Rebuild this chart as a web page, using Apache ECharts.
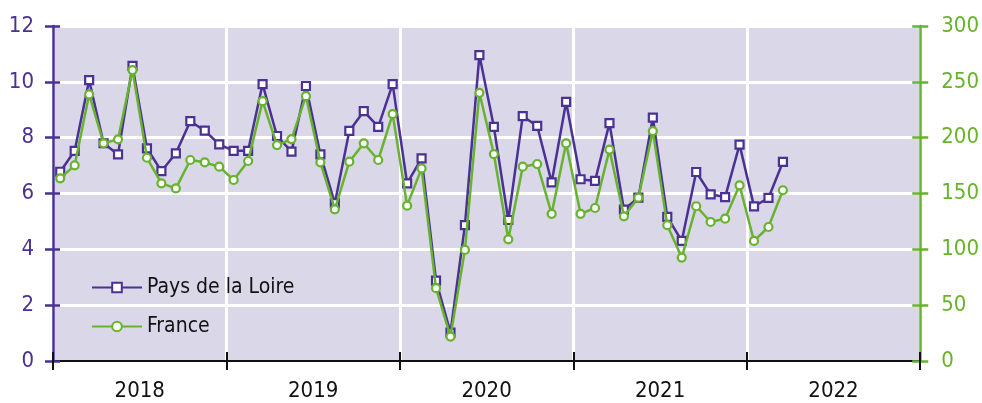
<!DOCTYPE html>
<html>
<head>
<meta charset="utf-8">
<script src="https://cdn.jsdelivr.net/npm/echarts@6/dist/echarts.min.js"></script>
<style>
html,body{margin:0;padding:0;background:#fff;}
#chart{width:982px;height:403px;}
</style>
</head>
<body>
<div id="chart"></div>
<script>
var years = ['2018', '2019', '2020', '2021', '2022'];
var months = [];
years.forEach(function (y) { for (var m = 1; m <= 12; m++) months.push(y + '-' + (m < 10 ? '0' + m : m)); });

var leftTicks = [0, 2, 4, 6, 8, 10, 12];
var rightTicks = [0, 50, 100, 150, 200, 250, 300];

var paysDeLaLoire = [
  6.78, 7.53, 10.06, 7.80, 7.40, 10.57, 7.62, 6.80, 7.44, 8.59, 8.25, 7.76,
  7.53, 7.53, 9.92, 8.06, 7.50, 9.85, 7.40, 5.65, 8.24, 8.95, 8.39, 9.92,
  6.36, 7.26, 2.88, 1.02, 4.87, 10.96, 8.39, 5.05, 8.77, 8.42, 6.40, 9.28,
  6.51, 6.45, 8.52, 5.42, 5.85, 8.72, 5.16, 4.30, 6.77, 5.97, 5.87, 7.75,
  5.54, 5.84, 7.13
];
var france = [
  163.6, 175.2, 238.7, 194.9, 198.5, 260.5, 182.0, 159.1, 154.6, 180.0, 177.9, 174.0,
  162.1, 179.1, 232.7, 193.4, 198.7, 237.2, 177.9, 135.8, 178.5, 194.9, 180.0, 221.1,
  139.1, 172.5, 65.2, 21.9, 99.5, 240.2, 185.3, 109.0, 174.0, 176.4, 131.8, 194.9,
  131.8, 137.0, 189.3, 129.6, 146.3, 205.9, 121.6, 92.6, 138.6, 124.5, 127.5, 157.3,
  107.5, 120.0, 152.9
];

var PURPLE = '#4a3193';
var GREEN = '#68b32e';
var FONT = "'Liberation Sans Narrow', 'DejaVu Sans Condensed', 'Roboto Condensed', sans-serif";

var chart = echarts.init(document.getElementById('chart'), null, {renderer: 'canvas'});
var option = {
  animation: false,
  textStyle: {fontFamily: FONT},
  grid: {
    left: 53, right: 60, top: 26, bottom: 42,
    show: true, backgroundColor: '#dad7e9', borderWidth: 0
  },
  legend: {
    orient: 'vertical', left: 86, top: 272, itemWidth: 50, itemHeight: 12, itemGap: 18,
    textStyle: {fontFamily: FONT, fontSize: 21, color: '#111'},
    data: ['Pays de la Loire', 'France']
  },
  xAxis: [
    {type: 'category', data: months, show: false, boundaryGap: true},
    {type: 'category', data: years, position: 'bottom', boundaryGap: true,
      axisLine: {show: true, lineStyle: {color: '#111', width: 2}},
      axisTick: {show: true, length: 9, lineStyle: {color: '#111', width: 2}},
      axisLabel: {color: '#111', fontSize: 22, fontFamily: FONT, margin: 19},
      splitLine: {show: true, lineStyle: {color: '#ffffff', width: 3}}
    },
    {type: 'category', data: years, position: 'bottom', boundaryGap: true,
      axisLine: {show: false},
      axisTick: {show: true, inside: true, length: 9, lineStyle: {color: '#111', width: 2}},
      axisLabel: {show: false}, splitLine: {show: false}
    }
  ],
  yAxis: [
    {type: 'value', min: leftTicks[0], max: leftTicks[leftTicks.length - 1], interval: 2, position: 'left',
      axisLine: {show: true, lineStyle: {color: PURPLE, width: 2.5}},
      axisTick: {show: true, length: 8, lineStyle: {color: PURPLE, width: 2.5}},
      axisLabel: {color: PURPLE, fontSize: 22, fontFamily: FONT, margin: 19},
      splitLine: {show: true, lineStyle: {color: '#ffffff', width: 3}}
    },
    {type: 'value', min: rightTicks[0], max: rightTicks[rightTicks.length - 1], interval: 50, position: 'right',
      axisLine: {show: true, lineStyle: {color: GREEN, width: 2.5}},
      axisTick: {show: true, length: 8, lineStyle: {color: GREEN, width: 2.5}},
      axisLabel: {color: GREEN, fontSize: 22, fontFamily: FONT, margin: 21},
      splitLine: {show: false}
    },
    {type: 'value', min: 0, max: 12, interval: 2, position: 'left',
      axisLine: {show: false}, axisLabel: {show: false}, splitLine: {show: false},
      axisTick: {show: true, inside: true, length: 7, lineStyle: {color: PURPLE, width: 2.5}}
    },
    {type: 'value', min: 0, max: 300, interval: 50, position: 'right',
      axisLine: {show: false}, axisLabel: {show: false}, splitLine: {show: false},
      axisTick: {show: true, inside: true, length: 8, lineStyle: {color: GREEN, width: 2.5}}
    }
  ],
  series: [
    {name: 'France', type: 'line', xAxisIndex: 0, yAxisIndex: 1, data: france, z: 3,
      symbol: 'circle', symbolSize: 8,
      lineStyle: {color: GREEN, width: 2.5},
      itemStyle: {color: '#ffffff', borderColor: GREEN, borderWidth: 2.2}
    },
    {name: 'Pays de la Loire', type: 'line', xAxisIndex: 0, yAxisIndex: 0, data: paysDeLaLoire, z: 2,
      symbol: 'rect', symbolSize: 8,
      lineStyle: {color: PURPLE, width: 2.5},
      itemStyle: {color: '#ffffff', borderColor: PURPLE, borderWidth: 2.2}
    }
  ]
};
chart.setOption(option);
</script>
</body>
</html>
